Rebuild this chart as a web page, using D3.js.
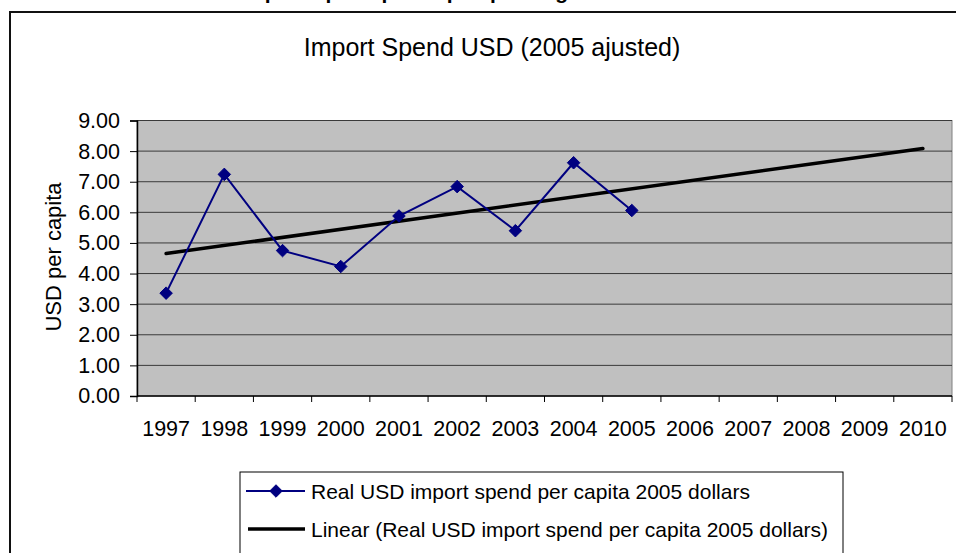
<!DOCTYPE html>
<html>
<head>
<meta charset="utf-8">
<script src="https://cdn.jsdelivr.net/npm/d3@7"></script>
<style>
  html, body { margin: 0; padding: 0; background: #fff; }
  svg { display: block; font-family: "Liberation Sans", Arial, sans-serif; }
</style>
</head>
<body>
<svg id="chart" width="956" height="553"></svg>
<script>
// Categories and values
const years = ["1997","1998","1999","2000","2001","2002","2003","2004","2005","2006","2007","2008","2009","2010"];
const dataYears = ["1997","1998","1999","2000","2001","2002","2003","2004","2005"];
const spend = [3.36, 7.24, 4.75, 4.23, 5.88, 6.84, 5.40, 7.62, 6.06];
const yTicks = [0, 1, 2, 3, 4, 5, 6, 7, 8, 9];

const seriesName = "Real USD import spend per capita 2005 dollars";
const trendName = "Linear (Real USD import spend per capita 2005 dollars)";

const svg = d3.select("#chart");
const W = 956, H = 553;

// Outer chart frame (continues past the right and bottom edges)
svg.append("path")
  .attr("d", `M10,${H + 5} L10,12 L${W + 5},12`)
  .attr("fill", "none").attr("stroke", "#111").attr("stroke-width", 2);

// Page heading above the frame, sitting mostly above the top edge
svg.append("text")
  .attr("x", 420).attr("y", -1.5)
  .attr("text-anchor", "middle")
  .attr("font-weight", "bold").attr("font-size", 21)
  .text("Import Spend per Capita per Region");

// Chart title
svg.append("text")
  .attr("x", 492).attr("y", 56)
  .attr("text-anchor", "middle")
  .attr("font-size", 25)
  .text("Import Spend USD (2005 ajusted)");

const plot = { left: 137, right: 952, top: 120.5, bottom: 396 };

const x = d3.scaleBand().domain(years).range([plot.left, plot.right]);
const y = d3.scaleLinear().domain([0, 9]).range([plot.bottom, plot.top]);

// Plot background
svg.append("rect")
  .attr("x", plot.left).attr("y", plot.top)
  .attr("width", plot.right - plot.left).attr("height", plot.bottom - plot.top)
  .attr("fill", "#c0c0c0").attr("stroke", "#808080").attr("stroke-width", 1);

// Horizontal gridlines
svg.append("g").selectAll("line").data(yTicks.filter(d => d > 0)).join("line")
  .attr("x1", plot.left).attr("x2", plot.right)
  .attr("y1", d => y(d)).attr("y2", d => y(d))
  .attr("stroke", "#3a3a3a").attr("stroke-width", 1);

// Y axis
const yAxis = d3.axisLeft(y).tickValues(yTicks).tickFormat(d3.format(".2f")).tickSize(7).tickPadding(10);
const gy = svg.append("g").attr("transform", `translate(${plot.left},0)`).call(yAxis);
gy.select(".domain").attr("stroke", "#000").attr("stroke-width", 1.5);
gy.selectAll(".tick line").attr("stroke", "#000");
gy.selectAll(".tick text").attr("font-size", 21.5).attr("fill", "#000")
  .attr("font-family", "'Liberation Sans', Arial, sans-serif");

// X axis with ticks at category boundaries
const gx = svg.append("g").attr("transform", `translate(0,${plot.bottom})`);
gx.append("line").attr("x1", plot.left).attr("x2", plot.right).attr("y1", 0).attr("y2", 0)
  .attr("stroke", "#000").attr("stroke-width", 1.5);
const bounds = years.map(d => x(d)).concat([x(years[years.length - 1]) + x.bandwidth()]);
gx.selectAll("line.tk").data(bounds).join("line").attr("class", "tk")
  .attr("x1", d => d).attr("x2", d => d).attr("y1", 0).attr("y2", 6)
  .attr("stroke", "#000");
gx.selectAll("text").data(years).join("text")
  .attr("x", d => x(d) + x.bandwidth() / 2).attr("y", 40)
  .attr("text-anchor", "middle").attr("font-size", 21.5)
  .text(d => d);

// Y axis title
svg.append("text")
  .attr("transform", `translate(61,257) rotate(-90)`)
  .attr("text-anchor", "middle").attr("font-size", 22)
  .text("USD per capita");

const cx = d => x(d) + x.bandwidth() / 2;

// Least-squares linear trend over the category index, extended to the last category
const idx = dataYears.map(d => years.indexOf(d) + 1);
const mx = d3.mean(idx), my = d3.mean(spend);
const slope = d3.sum(idx, (v, i) => (v - mx) * (spend[i] - my)) / d3.sum(idx, v => (v - mx) ** 2);
const intercept = my - slope * mx;
const trendEnds = [years[0], years[years.length - 1]];

svg.append("line")
  .attr("x1", cx(trendEnds[0])).attr("y1", y(intercept + slope * 1))
  .attr("x2", cx(trendEnds[1])).attr("y2", y(intercept + slope * years.length))
  .attr("stroke", "#000").attr("stroke-width", 3.5).attr("stroke-linecap", "round");

// Data series
const line = d3.line().x((d, i) => cx(dataYears[i])).y(d => y(d));
svg.append("path").datum(spend)
  .attr("d", line).attr("fill", "none")
  .attr("stroke", "#000080").attr("stroke-width", 2);

const diamond = d3.symbol().type(d3.symbolDiamond2).size(100);
svg.append("g").selectAll("path").data(spend).join("path")
  .attr("transform", (d, i) => `translate(${cx(dataYears[i])},${y(d)})`)
  .attr("d", diamond).attr("fill", "#000080").attr("stroke", "#000080");

// Legend
const lg = svg.append("g");
lg.append("rect").attr("x", 240).attr("y", 472).attr("width", 603).attr("height", 100)
  .attr("fill", "#fff").attr("stroke", "#000").attr("stroke-width", 1);
lg.append("line").attr("x1", 246).attr("x2", 305).attr("y1", 491).attr("y2", 491)
  .attr("stroke", "#000080").attr("stroke-width", 2);
lg.append("path").attr("transform", "translate(276,491)").attr("d", diamond)
  .attr("fill", "#000080").attr("stroke", "#000080");
lg.append("text").attr("x", 311).attr("y", 498.5).attr("font-size", 21).text(seriesName);
lg.append("line").attr("x1", 248).attr("x2", 305).attr("y1", 529).attr("y2", 529)
  .attr("stroke", "#000").attr("stroke-width", 3.5);
lg.append("text").attr("x", 311).attr("y", 536.5).attr("font-size", 21).text(trendName);
</script>
</body>
</html>
